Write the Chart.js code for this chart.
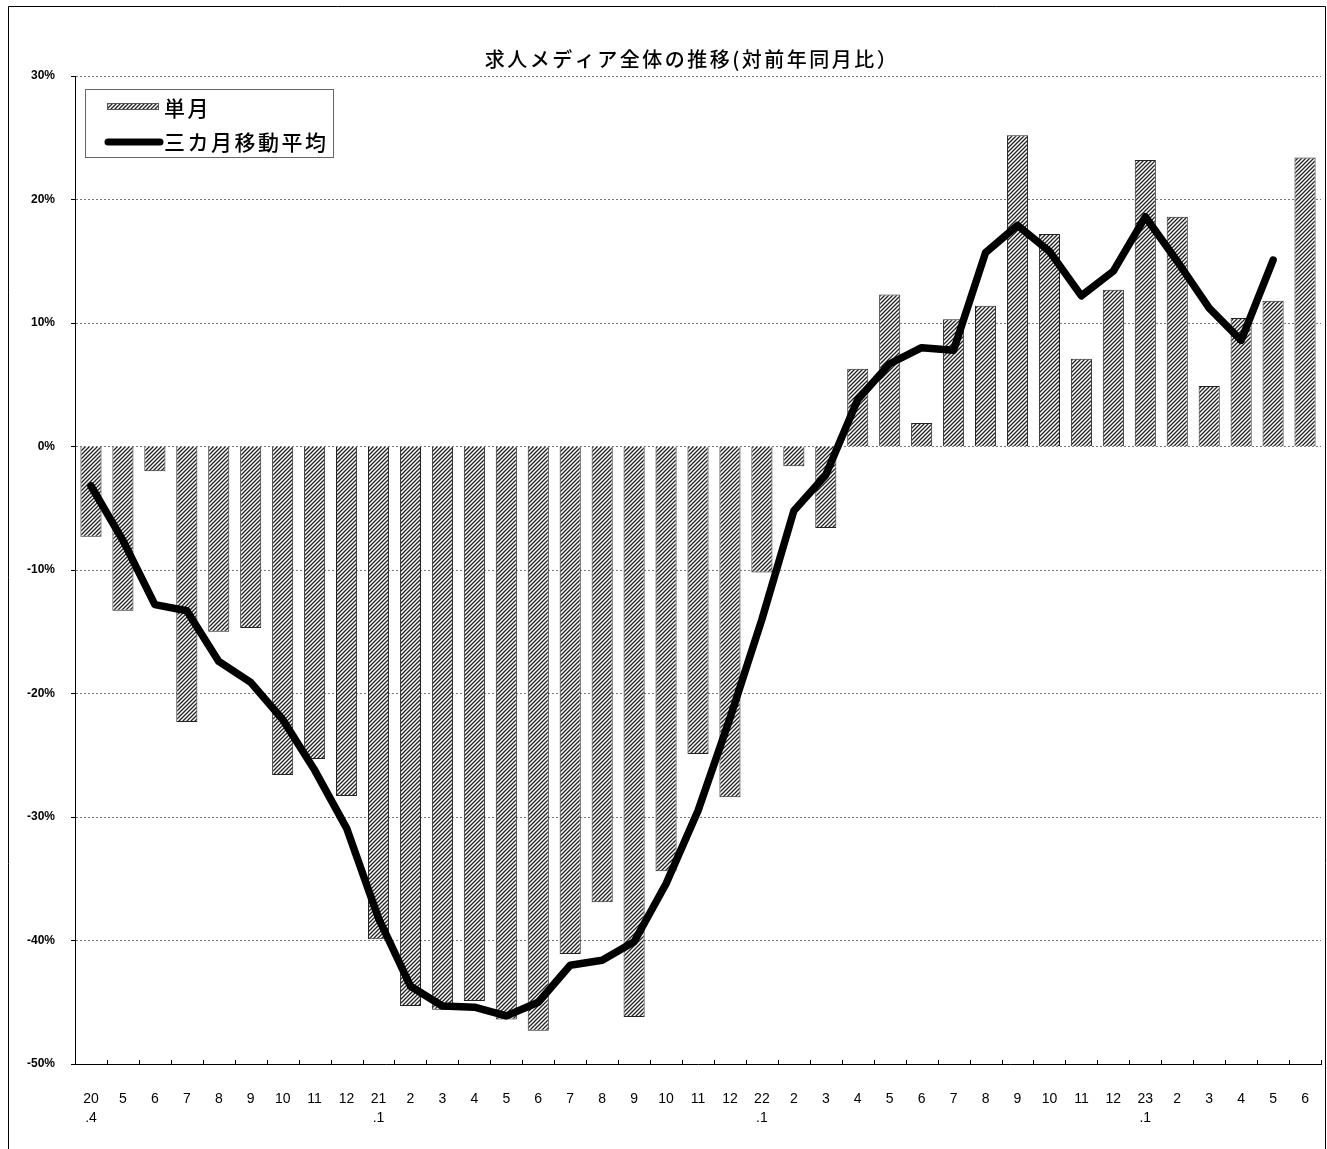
<!DOCTYPE html>
<html>
<head>
<meta charset="utf-8">
<script src="https://cdn.jsdelivr.net/npm/chart.js@4"></script>
<style>
  body { margin: 0; background: #fff; }
  #wrap { width: 1327px; height: 1149px; }
</style>
</head>
<body>
<div id="wrap"><canvas id="mediaChart" width="1327" height="1149"></canvas></div>
<script>
// month labels (first row) and year suffix (second row)
const monthLabels = ['20','5','6','7','8','9','10','11','12',
                     '21','2','3','4','5','6','7','8','9','10','11','12',
                     '22','2','3','4','5','6','7','8','9','10','11','12',
                     '23','2','3','4','5','6'];
const yearLabels  = ['.4','','','','','','','','',
                     '.1','','','','','','','','','','','',
                     '.1','','','','','','','','','','','',
                     '.1','','','','',''];

// single month, % vs same month of the previous year
const singleMonth = [-7.3, -13.3, -2.0, -22.3, -15.0, -14.7, -26.6, -25.3, -28.3,
                     -39.9, -45.3, -45.6, -44.9, -46.4, -47.3, -41.1, -36.9, -46.2, -34.4, -24.9, -28.4,
                     -10.2, -1.6, -6.6, 6.3, 12.3, 1.9, 10.3, 11.4, 25.2, 17.2, 7.1, 12.7,
                     23.2, 18.6, 4.9, 10.4, 11.8, 23.4];

// three month moving average
const movingAvg = [-3.2, -7.6, -12.8, -13.3, -17.4, -19.1, -22.1, -26.2, -30.9,
                   -38.2, -43.7, -45.3, -45.4, -46.1, -45.0, -42.0, -41.6, -40.1, -35.4, -29.5, -22.0,
                   -14.0, -5.2, -2.3, 3.8, 6.7, 8.0, 7.8, 15.7, 17.9, 15.8, 12.2, 14.2,
                   18.6, 15.0, 11.2, 8.6, 15.1, null];

const yTicks = [-50, -40, -30, -20, -10, 0, 10, 20, 30];

const chartTitle = '求人メディア全体の推移(対前年同月比）';
const legendLabels = ['単月', '三カ月移動平均'];

const labels = monthLabels.map((m, i) => [m, yearLabels[i]]);
const tickFont = "'Liberation Sans Narrow', 'Liberation Sans', Arial, sans-serif";
const jpFont = "'Noto Sans CJK JP', sans-serif";

// diagonal hatch used for the bars
function makeHatch() {
    const c = document.createElement('canvas');
    c.width = 4; c.height = 4;
    const g = c.getContext('2d');
    g.fillStyle = '#fff';
    g.fillRect(0, 0, 4, 4);
    g.strokeStyle = '#222';
    g.lineWidth = 1.3;
    g.beginPath();
    g.moveTo(-1, 1); g.lineTo(1, -1);
    g.moveTo(0, 4); g.lineTo(4, 0);
    g.moveTo(3, 5); g.lineTo(5, 3);
    g.stroke();
    return g.createPattern(c, 'repeat');
}
const hatch = makeHatch();

// frame, title, inner x ticks and legend box
const decorations = {
    id: 'decorations',
    afterDraw(chart) {
        const ctx = chart.ctx;
        const area = chart.chartArea;
        const x = chart.scales.x;
        ctx.save();

        // outer frame
        ctx.strokeStyle = '#000';
        ctx.lineWidth = 1;
        ctx.beginPath();
        ctx.moveTo(8.5, 1149); ctx.lineTo(8.5, 6.5); ctx.lineTo(1325.5, 6.5); ctx.lineTo(1325.5, 1149);
        ctx.stroke();

        // title
        ctx.fillStyle = '#000';
        ctx.font = '500 20px ' + jpFont;
        ctx.letterSpacing = '2.5px';
        ctx.textAlign = 'center';
        ctx.textBaseline = 'middle';
        ctx.fillText(chartTitle, 692, 59);

        // category boundary ticks pointing up
        const step = x.getPixelForValue(1) - x.getPixelForValue(0);
        ctx.letterSpacing = '0px';
        ctx.beginPath();
        for (let i = 0; i <= monthLabels.length; i++) {
            const px = Math.round(x.getPixelForValue(i) - step / 2) + 0.5;
            ctx.moveTo(px, area.bottom);
            ctx.lineTo(px, area.bottom - 4);
        }
        ctx.stroke();

        // legend
        const bx = 85, by = 89, bw = 248, bh = 68;
        ctx.fillStyle = '#fff';
        ctx.fillRect(bx, by, bw, bh);
        ctx.strokeStyle = '#666';
        ctx.strokeRect(bx + 0.5, by + 0.5, bw, bh);

        ctx.fillStyle = hatch;
        ctx.fillRect(107, 103, 51, 7);
        ctx.strokeStyle = '#555';
        ctx.strokeRect(107.5, 103.5, 51, 6);

        ctx.strokeStyle = '#000';
        ctx.lineWidth = 7;
        ctx.lineCap = 'round';
        ctx.beginPath();
        ctx.moveTo(108, 142); ctx.lineTo(160, 142);
        ctx.stroke();

        ctx.fillStyle = '#000';
        ctx.font = '500 21px ' + jpFont;
        ctx.letterSpacing = '2.5px';
        ctx.textAlign = 'left';
        ctx.fillText(legendLabels[0], 164, 108);
        ctx.fillText(legendLabels[1], 164, 142);
        ctx.restore();
    }
};

new Chart(document.getElementById('mediaChart').getContext('2d'), {
    type: 'bar',
    data: {
        labels: labels,
        datasets: [{
            type: 'line',
            label: legendLabels[1],
            data: movingAvg,
            borderColor: '#000',
            borderWidth: 7.5,
            borderCapStyle: 'round',
            borderJoinStyle: 'round',
            pointRadius: 0,
            tension: 0,
            order: 0
        }, {
            label: legendLabels[0],
            data: singleMonth,
            backgroundColor: hatch,
            borderColor: '#222',
            borderWidth: 1,
            barPercentage: 0.66,
            categoryPercentage: 1,
            order: 1
        }]
    },
    options: {
        responsive: false,
        animation: false,
        layout: { padding: { left: 0, top: 76, right: 5, bottom: 0 } },
        plugins: {
            legend: { display: false },
            title: { display: false },
            tooltip: { enabled: false }
        },
        scales: {
            x: {
                grid: { display: false },
                border: { display: true, color: '#000', width: 1 },
                ticks: {
                    color: '#000',
                    font: { family: tickFont, size: 14, lineHeight: 1.35 },
                    padding: 18,
                    maxRotation: 0,
                    autoSkip: false
                },
                afterFit(scale) { scale.height = 85; }
            },
            y: {
                min: -50,
                max: 30,
                afterBuildTicks(scale) { scale.ticks = yTicks.map(v => ({ value: v })); },
                grid: {
                    color: '#777',
                    tickColor: '#000',
                    tickLength: 4,
                    lineWidth: 1
                },
                border: { display: true, color: '#000', width: 1, dash: [2, 2] },
                ticks: {
                    color: '#000',
                    font: { family: tickFont, size: 12, weight: 'bold' },
                    padding: 16,
                    callback: v => v + '%'
                },
                afterFit(scale) { scale.width = 75; }
            }
        }
    },
    plugins: [decorations]
});
</script>
</body>
</html>
